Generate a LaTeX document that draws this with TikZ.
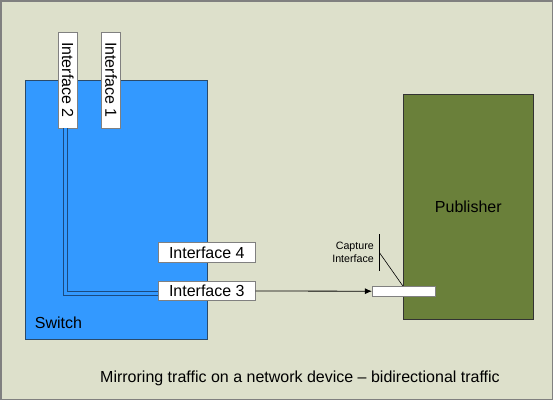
\documentclass[tikz,border=0pt]{standalone}
\usepackage{fontspec}
\setmainfont{Liberation Sans}
\usetikzlibrary{arrows.meta}
\definecolor{bgbeige}{HTML}{DDE0CB}
\definecolor{swblue}{HTML}{3399FF}
\definecolor{swedge}{HTML}{2A4A6A}
\definecolor{pubgreen}{HTML}{6A803A}
\definecolor{linkblue}{HTML}{1A4A80}
\begin{document}
\begin{tikzpicture}[x=1pt, y=-1pt, font=\fontsize{16}{19}\selectfont] % схема зеркалирования
\tikzstyle{myswitch} = [draw=swedge, fill=swblue, line width=0.9pt, minimum width=182pt, minimum height=259pt, inner sep=0pt] % коммутатор
\tikzstyle{mypub} = [draw=black!80, fill=pubgreen, line width=0.9pt, minimum width=130pt, minimum height=225pt, inner sep=0pt] % publisher
\tikzstyle{myport} = [draw=black!50, fill=white, line width=0.8pt, minimum width=97pt, minimum height=19.6pt, inner sep=0pt] % порт
\tikzstyle{myvport} = [myport, rotate=-90, minimum width=96pt, minimum height=19pt] % вертикальный порт
\tikzstyle{mycap} = [draw=black!50, fill=white, line width=0.8pt, minimum width=62.7pt, minimum height=9.7pt, inner sep=0pt] % порт захвата

% фон и рамка
\path[use as bounding box, fill=bgbeige] (0,0) rectangle (553,400);
\draw[black!50, line width=1.5pt] (0.75,0.75) rectangle (552.25,399.25);

% устройства
\node[myswitch] (sw) at (116,209.5) {};
\node[anchor=west, inner sep=0pt] (swname) at (34.7,323) {Switch};
\node[mypub] (pub) at (468.3,207) {Publisher};

% интерфейсы
\node[myvport] (ifb) at (67.8,80) {Interface 2};
\node[myvport] (ifa) at (111,80) {Interface 1};
\node[myport] (ifd) at (206.8,252.5) {Interface 4};
\node[myport] (ifc) at (206.8,291) {Interface 3};
\node[mycap] (cap) at (403.7,291.2) {};

% зеркалирование
\draw[draw=linkblue, double=swblue, double distance=2.7pt, line width=1.3pt]
    ([xshift=-2.4pt]ifb.east) |- ([yshift=-2.3pt]ifc.west);
\draw[-{Latex[length=7pt,width=6pt]}, line width=0.8pt] (ifc.east) -- (cap.west);

% подпись порта захвата
\node[anchor=east, align=right, inner sep=0pt, font=\fontsize{10.67}{12.7}\selectfont] (capname) at (374,252) {Capture\\Interface};
\coordinate (bartop) at (379.7,234);
\coordinate (barbot) at (379.7,271);
\coordinate (barmid) at (379.7,253);
\draw[line width=0.8pt] (bartop) -- (barbot);
\draw[line width=0.6pt] (barmid) -- (cap.north -| pub.west);

\node[inner sep=0pt] (caption) at (300,378) {Mirroring traffic on a network device -- bidirectional traffic};
\end{tikzpicture}
\end{document}
